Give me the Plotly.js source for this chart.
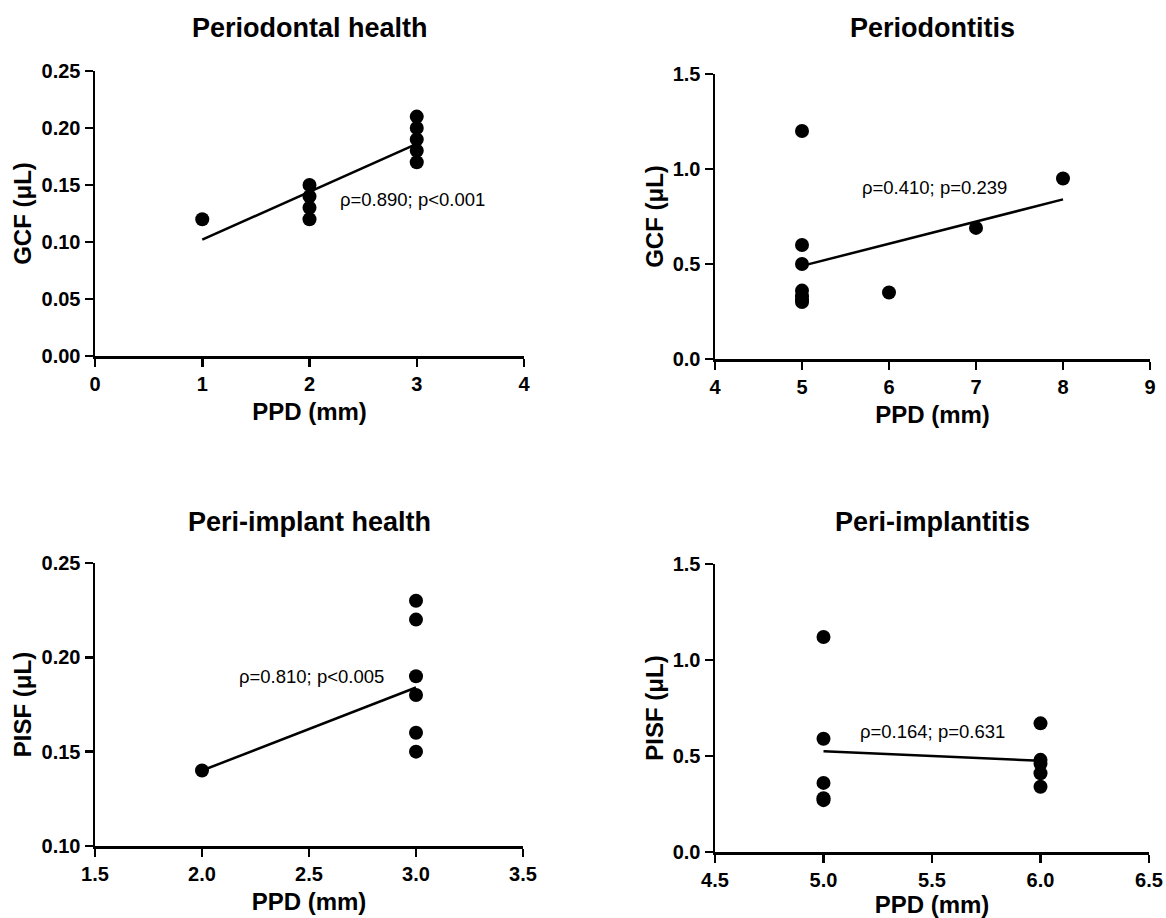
<!DOCTYPE html>
<html>
<head>
<meta charset="utf-8">
<script src="https://cdn.plot.ly/plotly-3.0.1.min.js"></script>
<style>html,body{margin:0;padding:0;background:#fff;}#chart{width:1166px;height:918px;}</style>
</head>
<body>
<div id="chart"></div>
<script>
// ---- Data ----
const panelTitles = ["Periodontal health", "Periodontitis", "Peri-implant health", "Peri-implantitis"];
const xTitle = "PPD (mm)";
const yTitles = ["GCF (μL)", "GCF (μL)", "PISF (μL)", "PISF (μL)"];

const healthPPD = [1, 2, 2, 2, 2, 3, 3, 3, 3, 3];
const healthGCF = [0.12, 0.15, 0.14, 0.13, 0.12, 0.21, 0.20, 0.19, 0.18, 0.17];
const healthFitX = [1, 3];
const healthFitY = [0.102, 0.186];

const perioPPD = [5, 5, 5, 5, 5, 5, 5, 6, 7, 8];
const perioGCF = [1.20, 0.60, 0.50, 0.36, 0.33, 0.31, 0.30, 0.35, 0.69, 0.95];
const perioFitX = [5, 8];
const perioFitY = [0.49, 0.84];

const implHealthPPD = [2, 3, 3, 3, 3, 3, 3];
const implHealthPISF = [0.14, 0.23, 0.22, 0.19, 0.18, 0.16, 0.15];
const implHealthFitX = [2, 3];
const implHealthFitY = [0.14, 0.184];

const implantitisPPD = [5, 5, 5, 5, 5, 6, 6, 6, 6, 6];
const implantitisPISF = [1.12, 0.59, 0.36, 0.28, 0.27, 0.67, 0.48, 0.46, 0.41, 0.34];
const implantitisFitX = [5, 6];
const implantitisFitY = [0.525, 0.475];

const statLabels = ["ρ=0.890; p<0.001", "ρ=0.410; p=0.239", "ρ=0.810; p<0.005", "ρ=0.164; p=0.631"];
const statPosX = [2.96, 6.52, 2.51, 5.50];
const statPosY = [0.137, 0.905, 0.190, 0.627];

const xRanges = [[0, 4], [4, 9], [1.5, 3.5], [4.5, 6.5]];
const yRanges = [[0, 0.25], [0, 1.5], [0.10, 0.25], [0, 1.5]];
const xDtick = [1, 1, 0.5, 0.5];
const yDtick = [0.05, 0.5, 0.05, 0.5];
const xFormat = ["d", "d", ".1f", ".1f"];
const yFormat = [".2f", ".1f", ".2f", ".1f"];

// ---- Layout geometry (pixels in a 1166x918 figure) ----
const W = 1166, H = 918;
const boxes = [
  {l: 95, r: 524, t: 71, b: 356},
  {l: 715, r: 1150, t: 74, b: 359},
  {l: 95, r: 523, t: 563, b: 846},
  {l: 715, r: 1149, t: 564, b: 852}
];
const titleY = [28, 28, 522, 522];

const FONT = "Liberation Sans, Arial, Helvetica, sans-serif";
const series = [
  [healthPPD, healthGCF, healthFitX, healthFitY],
  [perioPPD, perioGCF, perioFitX, perioFitY],
  [implHealthPPD, implHealthPISF, implHealthFitX, implHealthFitY],
  [implantitisPPD, implantitisPISF, implantitisFitX, implantitisFitY]
];

const traces = [];
const layout = {
  width: W, height: H,
  margin: {l: 0, r: 0, t: 0, b: 0},
  paper_bgcolor: "#fff", plot_bgcolor: "#fff",
  showlegend: false,
  font: {family: FONT, color: "#000"},
  annotations: []
};

series.forEach((s, i) => {
  const n = i + 1;
  const xa = n === 1 ? "x" : "x" + n;
  const ya = n === 1 ? "y" : "y" + n;
  traces.push({
    x: s[2], y: s[3], xaxis: xa, yaxis: ya, type: "scatter", mode: "lines",
    line: {color: "#000", width: 2.5}, hoverinfo: "skip"
  });
  traces.push({
    x: s[0], y: s[1], xaxis: xa, yaxis: ya, type: "scatter", mode: "markers",
    marker: {color: "#000", size: 14, line: {width: 0}}
  });
  const b = boxes[i];
  const axCommon = {
    showline: true, linewidth: 2.5, linecolor: "#000",
    ticks: "outside", ticklen: 8, tickwidth: 2.5, tickcolor: "#000",
    showgrid: false, zeroline: false,
    tickfont: {family: FONT, size: 20, weight: "bold", color: "#000"},
    fixedrange: true
  };
  layout["xaxis" + (n === 1 ? "" : n)] = Object.assign({}, axCommon, {
    domain: [b.l / W, b.r / W], anchor: ya, range: xRanges[i],
    tick0: xRanges[i][0], dtick: xDtick[i], tickformat: xFormat[i],
    title: {text: xTitle, font: {family: FONT, size: 24, weight: "bold", color: "#000"}, standoff: 10}
  });
  layout["yaxis" + (n === 1 ? "" : n)] = Object.assign({}, axCommon, {
    domain: [1 - b.b / H, 1 - b.t / H], anchor: xa, range: yRanges[i],
    tick0: yRanges[i][0], dtick: yDtick[i], tickformat: yFormat[i],
    title: {text: yTitles[i], font: {family: FONT, size: 24, weight: "bold", color: "#000"}, standoff: 3}
  });
  layout.annotations.push({
    text: panelTitles[i], xref: "paper", yref: "paper",
    x: ((b.l + b.r) / 2) / W, y: 1 - titleY[i] / H,
    xanchor: "center", yanchor: "middle", showarrow: false,
    font: {family: FONT, size: 27, weight: "bold", color: "#000"}
  });
  layout.annotations.push({
    text: statLabels[i], xref: xa, yref: ya,
    x: statPosX[i], y: statPosY[i], xanchor: "center", yanchor: "middle",
    showarrow: false, font: {family: FONT, size: 18.5, color: "#000"}
  });
});

Plotly.newPlot("chart", traces, layout, {displayModeBar: false, staticPlot: true});
</script>
</body>
</html>
